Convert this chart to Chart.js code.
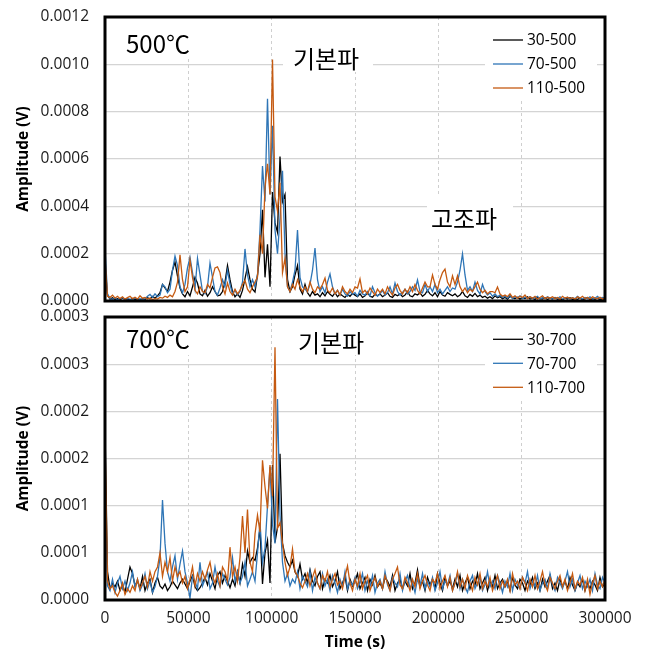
<!DOCTYPE html>
<html>
<head>
<meta charset="utf-8">
<script src="https://cdn.jsdelivr.net/npm/chart.js@4.4.1/dist/chart.umd.min.js"></script>
<style>
  html, body { margin: 0; padding: 0; background: #fff; }
  #wrap { position: relative; width: 648px; height: 652px; }
  canvas { position: absolute; left: 0; }
  #topChart { top: 0; }
  #bottomChart { top: 300px; }
</style>
</head>
<body>
<div id="wrap">
  <canvas id="topChart" width="648" height="320"></canvas>
  <canvas id="bottomChart" width="648" height="352"></canvas>
</div>
<script>
const SAMPLE_S = 1500;
const timeS = Array.from({ length: 201 }, (_, i) => i * SAMPLE_S);

const xTickLabels = ["0", "50000", "100000", "150000", "200000", "250000", "300000"];
const topTickLabels = ["0.0000", "0.0002", "0.0004", "0.0006", "0.0008", "0.0010", "0.0012"];
const bottomTickLabels = ["0.0000", "0.0001", "0.0001", "0.0002", "0.0002", "0.0003", "0.0003"];

const names500 = ["30-500", "70-500", "110-500"];
const names700 = ["30-700", "70-700", "110-700"];
const lineColors = ["#000000", "#2e75b6", "#c55a11"];

// amplitudes in microvolts, one sample every 1500 s
const amp30_500 = [
	150, 25, 8, 14, 6, 10, 5, 12, 7, 9,
	4, 11, 6, 8, 3, 10, 6, 14, 9, 20,
	12, 22, 35, 70, 55, 40, 80, 130, 165, 105,
	55, 30, 18, 40, 22, 60, 100, 75, 30, 22,
	45, 20, 35, 60, 40, 22, 25, 40, 80, 150,
	90, 40, 18, 30, 15, 45, 95, 145, 90, 50,
	38, 110, 200, 385, 100, 240, 60, 460, 330, 290,
	610, 420, 450, 90, 40, 60, 110, 150, 50, 30,
	70, 35, 20, 40, 25, 30, 18, 35, 22, 40,
	28, 20, 35, 18, 30, 22, 15, 28, 20, 32,
	25, 18, 30, 15, 22, 35, 20, 16, 28, 22,
	30, 18, 25, 35, 20, 15, 28, 22, 30, 18,
	25, 40, 22, 18, 30, 25, 35, 20, 28, 45,
	30, 22, 35, 18, 40, 25, 20, 35, 28, 22,
	30, 18, 25, 40, 22, 15, 28, 20, 32, 18,
	25, 15, 20, 12, 18, 10, 22, 14, 18, 10,
	15, 8, 20, 12, 10, 16, 8, 14, 10, 18,
	8, 12, 6, 15, 10, 8, 14, 6, 12, 9,
	15, 7, 10, 5, 12, 8, 14, 6, 10, 7,
	12, 6, 9, 15, 5, 10, 7, 12, 5, 9, 8,
];
const amp70_500 = [
	220, 30, 10, 6, 12, 5, 9, 14, 6, 10,
	8, 5, 12, 7, 10, 6, 9, 20, 28, 15,
	30, 18, 25, 70, 60, 35, 50, 130, 190, 150,
	60, 35, 70, 140, 185, 120, 50, 180, 110, 40,
	30, 60, 160, 100, 40, 25, 55, 90, 60, 130,
	70, 30, 45, 25, 40, 80, 220, 110, 60, 90,
	60, 110, 300, 570, 420, 855, 450, 740, 300, 200,
	350, 550, 200, 60, 40, 80, 130, 300, 100, 60,
	50, 40, 70, 130, 224, 90, 40, 60, 35, 80,
	114, 60, 30, 45, 25, 50, 30, 20, 40, 28,
	35, 20, 45, 30, 25, 40, 22, 60, 35, 20,
	30, 45, 25, 35, 60, 30, 76, 40, 25, 35,
	50, 30, 40, 60, 45, 89, 40, 35, 70, 40,
	60, 40, 70, 35, 50, 30, 45, 60, 40, 55,
	50, 80, 130, 199, 110, 45, 60, 40, 80, 45,
	30, 70, 40, 25, 35, 20, 30, 18, 25, 15,
	20, 12, 25, 10, 18, 14, 22, 10, 16, 12,
	18, 10, 14, 20, 8, 15, 10, 18, 12, 8,
	14, 10, 18, 8, 12, 16, 8, 14, 10, 20,
	12, 8, 15, 10, 18, 8, 12, 20, 10, 15, 12,
];
const amp110_500 = [
	180, 20, 15, 25, 12, 20, 10, 18, 8, 14,
	20, 10, 16, 8, 22, 12, 15, 8, 12, 6,
	10, 8, 15, 12, 20, 15, 25, 18, 40, 80,
	195, 90, 40, 60, 173, 100, 45, 30, 60, 40,
	35, 70, 55, 100, 140, 144, 120, 60, 30, 76,
	40, 25, 50, 30, 45, 70, 87, 50, 35, 60,
	80, 101, 280, 200, 480, 580, 450, 1020, 440, 380,
	500, 120, 180, 60, 40, 70, 50, 90, 60, 40,
	60, 40, 80, 50, 35, 60, 50, 70, 97, 45,
	35, 55, 30, 45, 25, 60, 40, 30, 50, 35,
	60, 55, 93, 35, 45, 30, 55, 40, 25, 50,
	35, 50, 30, 60, 40, 25, 55, 70, 45, 30,
	50, 35, 60, 40, 70, 45, 30, 55, 80, 60,
	60, 110, 70, 50, 90, 120, 135, 80, 60, 106,
	70, 106, 60, 40, 55, 35, 50, 40, 60, 80,
	50, 35, 45, 30, 40, 40, 35, 59, 30, 20,
	25, 18, 30, 15, 22, 12, 20, 15, 25, 10,
	18, 12, 20, 8, 15, 22, 10, 16, 12, 18,
	10, 15, 8, 20, 12, 16, 10, 14, 8, 18,
	12, 20, 10, 15, 8, 18, 12, 10, 16, 8, 14,
];

const amp30_700 = [
	182, 30, 12, 18, 14, 20, 10, 16, 8, 22,
	35, 28, 15, 20, 12, 25, 10, 18, 22, 8,
	18, 24, 15, 12, 17, 10, 14, 20, 16, 12,
	18, 22, 17, 12, 20, 26, 14, 10, 13, 18,
	24, 16, 28, 20, 12, 26, 30, 18, 26, 20,
	13, 22, 15, 30, 18, 38, 25, 52, 40, 45,
	42, 55, 76, 17, 50, 63, 18, 143, 61, 77,
	155, 60, 47, 40, 35, 42, 30, 25, 38, 22,
	28, 18, 32, 20, 15, 25, 30, 12, 22, 18,
	26, 14, 20, 30, 12, 18, 25, 10, 22, 15,
	20, 28, 12, 18, 24, 10, 22, 16, 26, 14,
	18, 12, 24, 20, 14, 26, 10, 18, 22, 12,
	20, 15, 28, 12, 18, 32, 14, 20, 10, 24,
	16, 22, 12, 28, 18, 10, 24, 15, 20, 12,
	22, 14, 26, 10, 18, 24, 12, 20, 16, 28,
	12, 18, 24, 10, 20, 14, 26, 12, 18, 22,
	14, 20, 10, 24, 16, 12, 22, 18, 10, 20,
	16, 24, 12, 18, 10, 22, 14, 20, 26, 12,
	18, 10, 22, 14, 20, 12, 24, 16, 10, 18,
	14, 22, 10, 18, 12, 20, 16, 10, 24, 14, 18,
];
const amp70_700 = [
	129, 15, 10, 22, 8, 18, 25, 12, 20, 10,
	18, 30, 14, 22, 10, 16, 28, 12, 20, 8,
	14, 25, 45, 106, 60, 30, 20, 35, 47, 22,
	38, 52, 30, 18, 2, 25, 20, 12, 40, 15,
	22, 30, 12, 18, 35, 20, 14, 28, 22, 16,
	24, 45, 20, 30, 18, 25, 40, 15, 22, 30,
	20, 50, 82, 40, 55, 100, 141, 80, 60, 213,
	90, 40, 20, 28, 15, 22, 18, 30, 12, 25,
	20, 14, 30, 10, 24, 18, 12, 28, 15, 22,
	10, 26, 18, 8, 22, 14, 30, 12, 20, 16,
	24, 12, 18, 28, 10, 20, 14, 26, 8, 18,
	22, 12, 30, 16, 10, 24, 18, 14, 28, 10,
	20, 26, 12, 18, 8, 22, 15, 28, 12, 20,
	14, 24, 10, 18, 30, 12, 20, 16, 26, 10,
	18, 28, 12, 22, 14, 8, 20, 26, 12, 18,
	24, 10, 16, 30, 14, 20, 12, 26, 18, 8,
	20, 14, 28, 10, 22, 16, 12, 24, 18, 30,
	12, 20, 14, 26, 10, 18, 22, 12, 28, 16,
	10, 24, 18, 12, 20, 30, 14, 22, 10, 18,
	26, 12, 20, 14, 22, 10, 28, 16, 12, 24, 18,
];
const amp110_700 = [
	169, 20, 12, 15, 8, 4, 10, 18, 6, 12,
	8, 15, 10, 22, 12, 18, 25, 14, 30, 20,
	30, 35, 50, 25, 40, 30, 45, 20, 35, 25,
	30, 18, 25, 12, 22, 35, 15, 28, 20, 30,
	22, 32, 40, 25, 18, 28, 15, 35, 30, 20,
	56, 25, 35, 20, 45, 89, 50, 96, 40, 30,
	70, 90, 72, 148, 120, 97, 143, 110, 268, 76,
	82, 60, 40, 26, 35, 54, 30, 26, 18, 13,
	20, 28, 15, 24, 32, 18, 12, 26, 20, 30,
	14, 22, 28, 16, 20, 12, 25, 36, 18, 10,
	22, 15, 28, 12, 20, 26, 10, 18, 24, 14,
	20, 12, 26, 18, 10, 22, 28, 35, 16, 12,
	24, 18, 10, 22, 14, 28, 12, 20, 26, 16,
	10, 22, 18, 28, 12, 20, 26, 14, 24, 10,
	18, 30, 14, 22, 12, 26, 18, 10, 24, 16,
	28, 12, 20, 14, 24, 10, 18, 26, 12, 20,
	14, 22, 10, 28, 16, 20, 12, 24, 18, 10,
	22, 14, 26, 12, 20, 30, 16, 10, 24, 18,
	12, 20, 26, 14, 22, 10, 18, 28, 12, 20,
	16, 24, 10, 22, 6, 18, 26, 12, 20, 14, 22,
];

const FONT = '"Open Sans", "Noto Sans CJK KR", sans-serif';
Chart.defaults.font.family = FONT;
Chart.defaults.color = "#1a1a1a";

// white note boxes, Korean notes, legend, and the heavy frame
const panelDecor = {
	id: "panelDecor",
	beforeDatasetsDraw(chart, args, opts) {
		const ctx = chart.ctx;
		ctx.save();
		ctx.fillStyle = "#fff";
		opts.boxes.forEach((b) => ctx.fillRect(b[0], b[1], b[2], b[3]));
		ctx.fillStyle = "#000";
		ctx.textBaseline = "middle";
		ctx.font = '24px "Noto Sans CJK KR"';
		opts.notes.forEach((n) => {
			ctx.textAlign = n.align;
			ctx.fillText(n.text, n.x, n.y);
		});
		ctx.font = `15.5px ${FONT}`;
		ctx.textAlign = "left";
		chart.data.datasets.forEach((ds, i) => {
			const y = opts.legendTop + i * 24;
			ctx.strokeStyle = ds.borderColor;
			ctx.lineWidth = 1.3;
			ctx.beginPath();
			ctx.moveTo(493, y);
			ctx.lineTo(523, y);
			ctx.stroke();
			ctx.fillStyle = "#000";
			ctx.fillText(ds.label, 527, y + 1);
		});
		ctx.restore();
	},
	afterDraw(chart) {
		const { ctx, chartArea: a } = chart;
		ctx.save();
		ctx.strokeStyle = "#000";
		ctx.lineWidth = 3;
		ctx.strokeRect(a.left, a.top, a.right - a.left, a.bottom - a.top);
		ctx.restore();
	},
};

function noScalePadding(s) {
	s.paddingTop = 0;
	s.paddingBottom = 0;
	s.paddingLeft = 0;
	s.paddingRight = 0;
}

function makePanel(canvasId, names, series, tickLabels, yMax, showX, decor) {
	const datasets = series.map((arr, i) => ({
		label: names[i],
		data: timeS.map((t, k) => ({ x: t, y: arr[k] })),
		borderColor: lineColors[i],
		borderWidth: 1.3,
		pointRadius: 0,
		tension: 0,
		fill: false,
		order: 3 - i,
	}));
	return new Chart(document.getElementById(canvasId), {
		type: "line",
		data: { datasets },
		plugins: [panelDecor],
		options: {
			responsive: false,
			devicePixelRatio: 1,
			animation: false,
			layout: { padding: { top: 17, right: 43, bottom: showX ? 0 : 19, left: 0 } },
			plugins: {
				legend: { display: false },
				tooltip: { enabled: false },
				panelDecor: decor,
			},
			scales: {
				x: {
					type: "linear",
					min: 0,
					max: 300000,
					afterFit: (s) => {
						s.height = showX ? 52 : 0;
						noScalePadding(s);
					},
					grid: { color: "#cfcfcf", lineWidth: 1, drawTicks: false },
					border: { display: false, dash: [3, 3] },
					ticks: {
						display: showX,
						stepSize: 50000,
						autoSkip: false,
						maxRotation: 0,
						padding: 9,
						font: { size: 15.5 },
						callback: (v, i) => xTickLabels[i],
					},
					title: {
						display: showX,
						text: "Time (s)",
						font: { size: 15.5, weight: "bold" },
						color: "#000",
						padding: 0,
					},
				},
				y: {
					min: 0,
					max: yMax,
					afterFit: (s) => {
						s.width = 105;
						noScalePadding(s);
					},
					grid: { color: "#d4d4d4", lineWidth: 1.2, drawTicks: false },
					border: { display: false },
					ticks: {
						stepSize: yMax / 6,
						padding: 16,
						font: { size: 15.5 },
						callback: (v, i) => tickLabels[i],
					},
					title: {
						display: true,
						text: "Amplitude (V)",
						font: { size: 15.5, weight: "bold" },
						color: "#000",
						padding: { top: 14, bottom: 0 },
					},
				},
			},
		},
	});
}

makePanel("topChart", names500, [amp30_500, amp70_500, amp110_500], topTickLabels, 1200, false, {
	boxes: [[116, 17, 79, 41], [283, 17, 90, 55], [427, 197, 86, 39], [485, 17, 112, 83]],
	notes: [
		{ text: "500℃", x: 126, y: 43.5, align: "left" },
		{ text: "기본파", x: 326, y: 59, align: "center" },
		{ text: "고조파", x: 464, y: 219, align: "center" },
	],
	legendTop: 40,
});

makePanel("bottomChart", names700, [amp30_700, amp70_700, amp110_700], bottomTickLabels, 300, true, {
	boxes: [[116, 17, 79, 38], [290, 17, 85, 38], [485, 17, 112, 83]],
	notes: [
		{ text: "700℃", x: 126, y: 39, align: "left" },
		{ text: "기본파", x: 331, y: 42.5, align: "center" },
	],
	legendTop: 39.3,
});
</script>
</body>
</html>
